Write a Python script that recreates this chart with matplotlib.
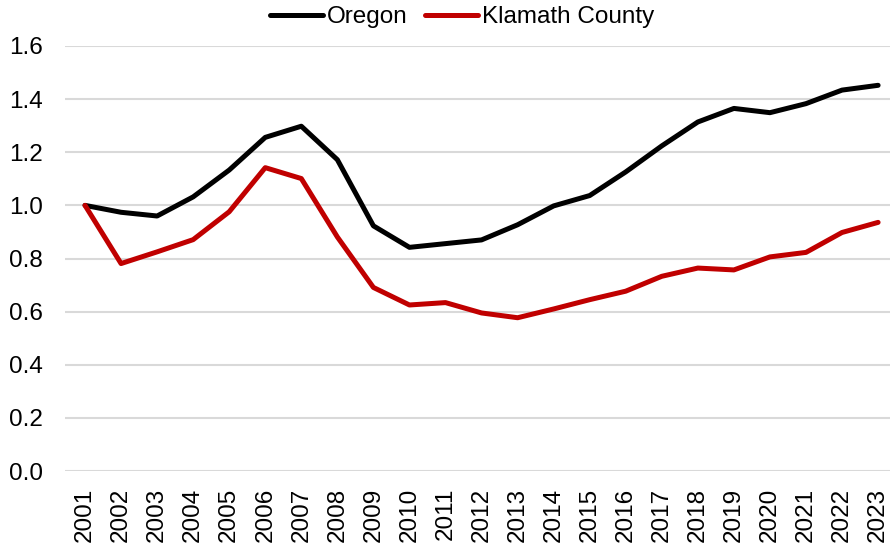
import matplotlib
matplotlib.use("Agg")
from matplotlib import pyplot as plt

plt.rcParams['font.family'] = ['Liberation Sans', 'DejaVu Sans']

years = [str(y) for y in range(2001, 2024)]
oregon = [1.00, 0.974, 0.96, 1.032, 1.133, 1.256, 1.298, 1.172, 0.923, 0.842, 0.856, 0.870,
          0.927, 0.998, 1.037, 1.126, 1.224, 1.314, 1.365, 1.349, 1.383, 1.434, 1.452]
klamath = [1.00, 0.781, 0.825, 0.871, 0.976, 1.142, 1.101, 0.881, 0.691, 0.625, 0.634, 0.595,
           0.577, 0.610, 0.645, 0.677, 0.733, 0.764, 0.757, 0.806, 0.823, 0.898, 0.936]
y_ticks = [0.0, 0.2, 0.4, 0.6, 0.8, 1.0, 1.2, 1.4, 1.6]

fig = plt.figure(figsize=(8.9, 5.48), dpi=100)
ax = fig.add_axes([65 / 890, 1 - 471 / 548, 1 - 65 / 890, 425 / 548])

x = list(range(len(years)))
ax.plot(x, oregon, color='black', lw=3.6, label='Oregon', solid_capstyle='round', clip_on=False, zorder=3)
ax.plot(x, klamath, color='#C00000', lw=3.6, label='Klamath County', solid_capstyle='round', clip_on=False, zorder=3)

ax.set_xlim(-0.555, 22.33)
ax.set_ylim(0, 1.6)
ax.set_yticks(y_ticks)
ax.set_yticklabels(['{:.1f}'.format(v) for v in y_ticks])
ax.set_xticks(x)
ax.set_xticklabels(years, rotation=90)
ax.tick_params(axis='y', length=0, pad=16, labelsize=17.5)
ax.tick_params(axis='x', length=0, pad=12, labelsize=17.5)
ax.grid(axis='y', color='#D9D9D9', lw=1.5)
ax.set_axisbelow(True)
for s in ax.spines.values():
    s.set_visible(False)

fig.legend(loc='center', bbox_to_anchor=(462 / 890, 1 - 17 / 548), ncol=2, frameon=False,
           fontsize=17.5, handlelength=2.2, handletextpad=0.15, columnspacing=0.7,
           borderpad=0, borderaxespad=0)

plt.savefig('out.png', dpi=100)
